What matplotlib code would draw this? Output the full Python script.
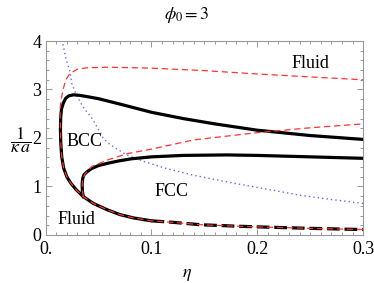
import numpy as np
import matplotlib
matplotlib.use('Agg')
import matplotlib.pyplot as plt
from matplotlib.ticker import MultipleLocator, FixedLocator

plt.rcParams['font.family'] = ['Liberation Serif', 'DejaVu Serif']
plt.rcParams['mathtext.fontset'] = 'stix'

# BCC/fluid boundary (black, solid part), from eta=0.1 on the bottom branch round to the top branch
outer_eta = [0.1, 0.083, 0.07, 0.058, 0.045, 0.0356, 0.029, 0.024, 0.020, 0.017, 0.0152, 0.0143,
             0.0140, 0.0142, 0.0150, 0.0167, 0.019, 0.022, 0.0262, 0.032, 0.04, 0.05, 0.07,
             0.1, 0.13, 0.16, 0.2, 0.25, 0.3]
outer_val = [0.29, 0.35, 0.42, 0.52, 0.65, 0.79, 0.93, 1.06, 1.20, 1.38, 1.61, 1.90,
             2.16, 2.42, 2.60, 2.72, 2.82, 2.87, 2.89, 2.88, 2.85, 2.81, 2.70,
             2.53, 2.40, 2.29, 2.16, 2.05, 1.97]

# bottom branch continued (black dashed)
low_eta = [0.1, 0.12, 0.146, 0.18, 0.209, 0.25, 0.3]
low_val = [0.29, 0.26, 0.21, 0.18, 0.16, 0.135, 0.11]

# FCC/BCC boundary (black)
fcc_eta = [0.0356, 0.0347, 0.0345, 0.0350, 0.0362, 0.039, 0.0435, 0.05, 0.059, 0.07, 0.081,
           0.1, 0.13, 0.171, 0.2, 0.25, 0.3]
fcc_val = [0.79, 0.90, 1.05, 1.16, 1.24, 1.30, 1.37, 1.43, 1.48, 1.53, 1.57,
           1.61, 1.64, 1.65, 1.64, 1.61, 1.58]

# red dashed curve A (fluid boundary, other approximation)
redA_eta = [0.3, 0.25, 0.209, 0.18, 0.146, 0.12, 0.1, 0.083, 0.07, 0.058, 0.045, 0.0356, 0.029,
            0.024, 0.020, 0.017, 0.0152, 0.0143, 0.0140, 0.0137, 0.0138, 0.0145, 0.0165, 0.019,
            0.023, 0.03, 0.04, 0.06, 0.1, 0.15, 0.2, 0.25, 0.3]
redA_val = [0.11, 0.135, 0.16, 0.18, 0.21, 0.26, 0.29, 0.35, 0.42, 0.52, 0.65, 0.79, 0.93,
            1.06, 1.20, 1.38, 1.61, 1.90, 2.16, 2.45, 2.62, 2.78, 3.00, 3.20,
            3.33, 3.42, 3.45, 3.46, 3.44, 3.39, 3.32, 3.26, 3.20]

# red dashed curve B
redB_eta = [0.0356, 0.0345, 0.0348, 0.037, 0.0435, 0.059, 0.078, 0.1, 0.14, 0.2, 0.25, 0.3]
redB_val = [0.79, 0.95, 1.12, 1.25, 1.41, 1.55, 1.68, 1.77, 1.96, 2.11, 2.21, 2.29]

# blue dotted curve
blue_eta = [0.0145, 0.0158, 0.019, 0.023, 0.0246, 0.029, 0.035, 0.045, 0.0545, 0.061, 0.0765,
            0.095, 0.114, 0.14, 0.177, 0.21, 0.24, 0.27, 0.3]
blue_val = [4.3, 4.0, 3.65, 3.37, 3.13, 2.89, 2.65, 2.37, 1.99, 1.86, 1.65,
            1.50, 1.37, 1.23, 1.07, 0.94, 0.82, 0.73, 0.65]

fig = plt.figure(figsize=(3.74, 2.83), dpi=100)
ax = fig.add_axes([0.122, 0.170, 0.849, 0.685])

ax.plot(blue_eta, blue_val, color='#6666ff', lw=1.0, ls=(0, (1, 2.2)))
ax.plot(outer_eta, outer_val, color='black', lw=2.3, solid_capstyle='round')
ax.plot(low_eta, low_val, color='black', lw=2.3, ls=(0, (4, 1.5)))
ax.plot(fcc_eta, fcc_val, color='black', lw=2.3)
ax.plot(redA_eta, redA_val, color='#ff3333', lw=0.9, ls=(0, (5, 3)))
ax.plot(redB_eta, redB_val, color='#ff3333', lw=0.9, ls=(0, (5, 3)))

ax.set_xlim(0, 0.3)
ax.set_ylim(0, 4)

ax.xaxis.set_major_locator(FixedLocator([0, 0.1, 0.2, 0.3]))
ax.set_xticklabels(['0.', '0.1', '0.2', '0.3'])
ax.xaxis.set_minor_locator(MultipleLocator(0.01))
ax.yaxis.set_major_locator(MultipleLocator(1))
ax.yaxis.set_minor_locator(MultipleLocator(0.2))
ax.tick_params(which='both', direction='in', top=True, right=True, color='#999999',
               labelsize=13, width=0.7)
ax.tick_params(which='major', length=4)
ax.tick_params(which='minor', length=2.2)
ax.tick_params(axis='x', which='major', pad=4.5)
ax.tick_params(axis='y', which='major', pad=3)
for s in ax.spines.values():
    s.set_color('#999999')
    s.set_linewidth(0.8)

ax.text(0.25, 3.54, 'Fluid', fontsize=13, ha='center', va='center')
ax.text(0.037, 1.92, 'BCC', fontsize=13, ha='center', va='center')
ax.text(0.119, 0.89, 'FCC', fontsize=13, ha='center', va='center')
ax.text(0.029, 0.31, 'Fluid', fontsize=13, ha='center', va='center')

fig.text(0.5, 0.947, r'$\phi_0 = 3$', fontsize=13, ha='center', va='center')
fig.text(0.5, 0.03, r'$\eta$', fontsize=13, ha='center', va='center')
fig.text(0.055, 0.505, r'$\dfrac{1}{\kappa\,a}$', fontsize=13, ha='center', va='center')

fig.savefig('out.png', dpi=100)
